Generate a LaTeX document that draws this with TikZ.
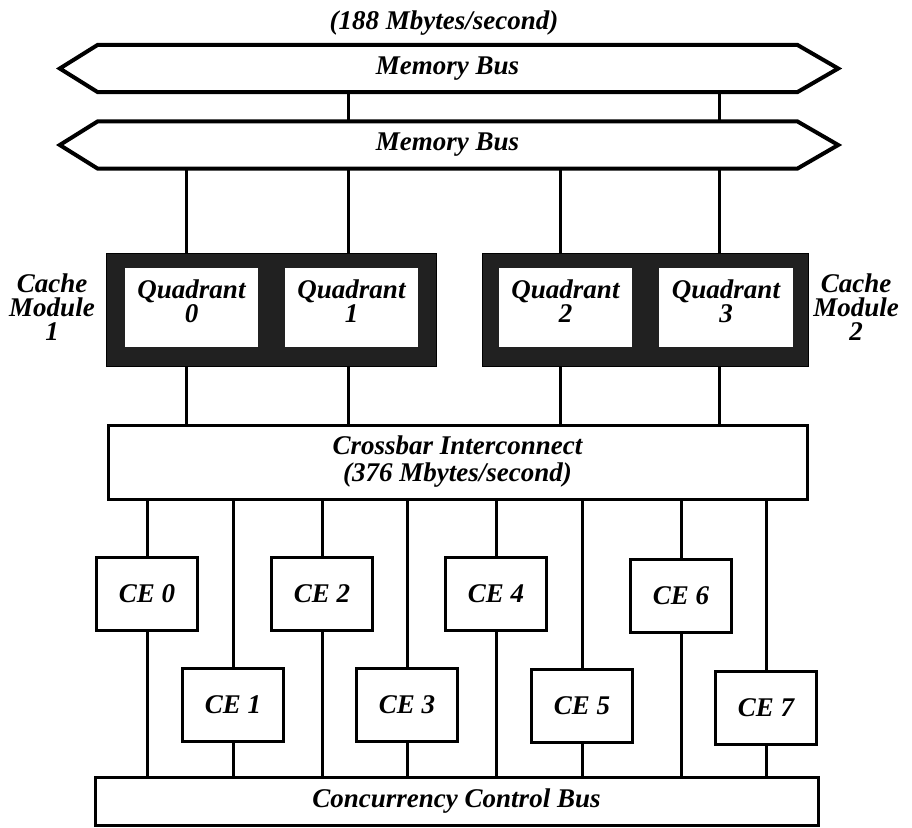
\documentclass[tikz,border=0pt]{standalone}
\usepackage{fontspec}
\setmainfont{Liberation Serif}
\usetikzlibrary{calc}
\begin{document}
\begin{tikzpicture}[x=1pt,y=-1pt,
  lbl/.style={font=\fontsize{27}{24}\selectfont\bfseries\itshape, align=center, inner sep=0pt},
  wire/.style={line width=3pt},
  buswire/.style={line width=4pt, line join=miter},
  box/.style={draw, line width=3pt, fill=white, inner sep=0pt, align=center,
    font=\fontsize{27}{27}\selectfont\bfseries\itshape},
  cebox/.style={box, minimum width=101pt, minimum height=73pt},
  busnode/.style={inner sep=0pt, minimum width=699pt, minimum height=47pt,
    font=\fontsize{27}{24}\selectfont\bfseries\itshape},
  frame/.style={draw, fill=black!87, line width=1pt, inner sep=0pt, minimum height=113pt},
  quad/.style={fill=white, inner sep=0pt, minimum width=133pt, minimum height=79pt},
]
\useasboundingbox (0,0) rectangle (912,827);

% bandwidth note above the memory buses
\node[lbl] (rate) at (444,23) {(188 Mbytes/second)};

% two memory buses drawn as double-pointed bars
\node[busnode] (mb1) at (447.5,68.5) {Memory Bus};
\node[busnode] (mb2) at (447.5,145) {Memory Bus};
\foreach \b in {mb1,mb2}{
  \draw[buswire] (\b.north west) -- (\b.north east) -- ($(\b.east)+(41,0)$)
    -- (\b.south east) -- (\b.south west) -- ($(\b.west)+(-38,0)$) -- cycle;
}

% columns of the bus taps
\coordinate (xa) at (186,0);
\coordinate (xb) at (348,0);
\coordinate (xc) at (560,0);
\coordinate (xd) at (719,0);

% cache modules with their quadrants
\node[frame, minimum width=330pt] (cm1) at (271,309.5) {};
\node[frame, minimum width=326pt] (cm2) at (645,309.5) {};
\node[quad] (q0) at (191.5,307.5) {};
\node[quad] (q1) at (351.5,307.5) {};
\node[quad] (q2) at (565.5,307.5) {};
\node[quad, minimum width=134pt] (q3) at (726,307.5) {};
\node[lbl] (q0t) at ($(q0.center)+(0,-6)$) {Quadrant\\0};
\node[lbl] (q1t) at ($(q1.center)+(0,-6)$) {Quadrant\\1};
\node[lbl] (q2t) at ($(q2.center)+(0,-6)$) {Quadrant\\2};
\node[lbl] (q3t) at ($(q3.center)+(0,-6)$) {Quadrant\\3};
\node[lbl] (cm1t) at (52,307) {Cache\\Module\\1};
\node[lbl] (cm2t) at (856,307) {Cache\\Module\\2};

% crossbar
\node[box, minimum width=699pt, minimum height=74pt] (xbar) at (457.5,462)
  {Crossbar Interconnect\\(376 Mbytes/second)};

% bus-to-bus and bus-to-cache links
\draw[wire] (xb |- mb1.south) -- (xb |- mb2.north);
\draw[wire] (xd |- mb1.south) -- (xd |- mb2.north);
\draw[wire] (xa |- mb2.south) -- (xa |- cm1.north);
\draw[wire] (xb |- mb2.south) -- (xb |- cm1.north);
\draw[wire] (xc |- mb2.south) -- (xc |- cm2.north);
\draw[wire] (xd |- mb2.south) -- (xd |- cm2.north);
\draw[wire] (xa |- cm1.south) -- (xa |- xbar.north);
\draw[wire] (xb |- cm1.south) -- (xb |- xbar.north);
\draw[wire] (xc |- cm2.south) -- (xc |- xbar.north);
\draw[wire] (xd |- cm2.south) -- (xd |- xbar.north);

% concurrency control bus
\node[box, minimum width=723pt, minimum height=48pt] (ccb) at (456.5,801)
  {Concurrency Control Bus};

% computational elements
\node[cebox] (ce0) at (147,594) {CE 0};
\node[cebox] (ce1) at (233,705) {CE 1};
\node[cebox] (ce2) at (322,594) {CE 2};
\node[cebox] (ce3) at (407,705) {CE 3};
\node[cebox] (ce4) at (496,594) {CE 4};
\node[cebox] (ce5) at (582,706) {CE 5};
\node[cebox] (ce6) at (681,596) {CE 6};
\node[cebox] (ce7) at (766,708) {CE 7};

\foreach \c in {ce0,ce1,ce2,ce3,ce4,ce5,ce6,ce7}{
  \draw[wire] (\c.north |- xbar.south) -- (\c.north);
  \draw[wire] (\c.south) -- (\c.south |- ccb.north);
}
\end{tikzpicture}
\end{document}
